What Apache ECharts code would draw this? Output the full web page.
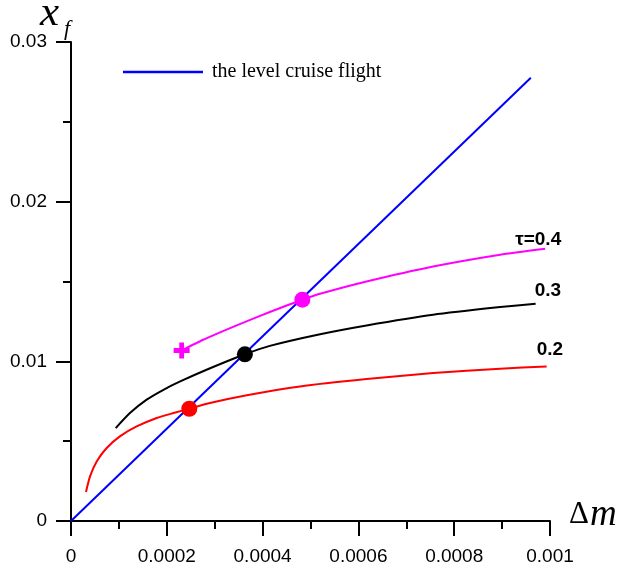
<!DOCTYPE html>
<html>
<head>
<meta charset="utf-8">
<script src="https://cdn.jsdelivr.net/npm/echarts@6/dist/echarts.min.js"></script>
<style>
html,body{margin:0;padding:0;background:#fff;}
#chart{width:622px;height:567px;}
</style>
</head>
<body>
<div id="chart"></div>
<script>
// ---- data ----
var cruiseX = [0, 0.00096];
var cruiseY = [0, 0.02776];

var tau04X = [0.000231, 0.000276, 0.000346, 0.000415, 0.000483, 0.000520, 0.000617, 0.000756, 0.000896, 0.000990];
var tau04Y = [0.01068, 0.01135, 0.01225, 0.01309, 0.01386, 0.01423, 0.01500, 0.01594, 0.01668, 0.01705];

var tau03X = [0.0000933, 0.000123, 0.000158, 0.000193, 0.000228, 0.000283, 0.000363, 0.000415, 0.000520, 0.000617, 0.000756, 0.000896, 0.000970];
var tau03Y = [0.00582, 0.00676, 0.00760, 0.00822, 0.00874, 0.00947, 0.01044, 0.01097, 0.01170, 0.01225, 0.01292, 0.01340, 0.01361];

var tau02X = [0.0000313, 0.0000397, 0.0000536, 0.0000745, 0.000102, 0.000137, 0.000179, 0.000214, 0.000247, 0.000290, 0.000367, 0.000478, 0.000617, 0.000756, 0.000896, 0.000993];
var tau02Y = [0.00182, 0.00279, 0.00373, 0.00457, 0.00530, 0.00592, 0.00645, 0.00676, 0.00703, 0.00739, 0.00788, 0.00843, 0.00889, 0.00927, 0.00954, 0.00968];

var dotX = [0.000247, 0.000363, 0.000483];
var dotY = [0.00703, 0.01044, 0.01386];
var dotColors = ['#ff0000', '#000000', '#ff00ff'];

var startMarkX = [0.000231];
var startMarkY = [0.01068];

var curveLabels = ['\u03c4=0.4', '0.3', '0.2'];
var legendText = 'the level cruise flight';
var xTickLabels = ['0', '0.0002', '0.0004', '0.0006', '0.0008', '0.001'];
var yTickLabels = ['0', '0.01', '0.02', '0.03'];

function pairs(xs, ys) { return xs.map(function (x, i) { return [x, ys[i]]; }); }

var chart = echarts.init(document.getElementById('chart'), null, {renderer: 'canvas'});

var axisCommon = {
  type: 'value',
  axisLine: {show: true, lineStyle: {color: '#000', width: 2}},
  axisTick: {show: true, inside: false, length: 15, lineStyle: {color: '#000', width: 2}},
  minorTick: {show: true, splitNumber: 2, length: 8, lineStyle: {color: '#000', width: 2}},
  splitLine: {show: false},
  minorSplitLine: {show: false}
};

var serif = '"Liberation Serif", "DejaVu Serif", serif';
var sans = '"Liberation Sans", Arial, sans-serif';

chart.setOption({
  animation: false,
  backgroundColor: '#fff',
  grid: {left: 71, top: 42, width: 479, height: 479, containLabel: false},
  xAxis: Object.assign({}, axisCommon, {
    min: 0, max: 0.001, interval: 0.0002,
    axisLabel: {
      margin: 26, color: '#000', fontFamily: sans, fontSize: 19,
      formatter: function (v) { return xTickLabels[Math.round(v / 0.0002)]; }
    }
  }),
  yAxis: Object.assign({}, axisCommon, {
    min: 0, max: 0.03, interval: 0.01,
    axisLabel: {
      margin: 24, color: '#000', fontFamily: sans, fontSize: 19,
      formatter: function (v) { return yTickLabels[Math.round(v / 0.01)]; }
    }
  }),
  legend: {
    data: [{name: legendText, icon: 'rect'}],
    left: 123, top: 62, padding: 0,
    itemWidth: 80, itemHeight: 2.5, itemGap: 10,
    itemStyle: {color: '#0000ff'},
    textStyle: {fontFamily: serif, fontSize: 20, color: '#000', padding: [0, 0, 0, 4]}
  },
  graphic: [
    {type: 'text', left: 40, top: -8, style: {text: 'x', font: 'italic 43px ' + serif, fill: '#000'}},
    {type: 'text', left: 64, top: 18, style: {text: 'f', font: 'italic 22px ' + serif, fill: '#000'}},
    {type: 'text', left: 569, top: 499, style: {text: '\u0394', font: '31px ' + serif, fill: '#000'}},
    {type: 'text', left: 590, top: 497, style: {text: 'm', font: 'italic 37px ' + serif, fill: '#000'}}
  ],
  series: [
    {
      name: legendText, type: 'line', data: pairs(cruiseX, cruiseY),
      showSymbol: false, symbol: 'none',
      lineStyle: {color: '#0000ff', width: 2}, itemStyle: {color: '#0000ff'}
    },
    {
      name: 'tau04', type: 'line', data: pairs(tau04X, tau04Y), smooth: 0.2,
      showSymbol: false, symbol: 'none',
      lineStyle: {color: '#ff00ff', width: 2}, itemStyle: {color: '#ff00ff'},
      endLabel: {show: true, formatter: curveLabels[0], offset: [-38, -9], color: '#000',
        fontFamily: sans, fontWeight: 'bold', fontSize: 19}
    },
    {
      name: 'tau03', type: 'line', data: pairs(tau03X, tau03Y), smooth: 0.2,
      showSymbol: false, symbol: 'none',
      lineStyle: {color: '#000000', width: 2}, itemStyle: {color: '#000'},
      endLabel: {show: true, formatter: curveLabels[1], offset: [-9, -13], color: '#000',
        fontFamily: sans, fontWeight: 'bold', fontSize: 19}
    },
    {
      name: 'tau02', type: 'line', data: pairs(tau02X, tau02Y), smooth: 0.2,
      showSymbol: false, symbol: 'none',
      lineStyle: {color: '#ff0000', width: 2}, itemStyle: {color: '#ff0000'},
      endLabel: {show: true, formatter: curveLabels[2], offset: [-18, -17], color: '#000',
        fontFamily: sans, fontWeight: 'bold', fontSize: 19}
    },
    {
      name: 'dots', type: 'scatter', symbol: 'circle', symbolSize: 16, z: 5,
      data: dotX.map(function (x, i) {
        return {value: [x, dotY[i]], itemStyle: {color: dotColors[i], opacity: 1}};
      })
    },
    {
      name: 'start', type: 'scatter', z: 5,
      symbol: 'path://M3.5,0 H6.5 V3.5 H10 V6.5 H6.5 V10 H3.5 V6.5 H0 V3.5 H3.5 Z',
      symbolSize: 16, itemStyle: {color: '#ff00ff', opacity: 1},
      data: pairs(startMarkX, startMarkY)
    }
  ]
});
</script>
</body>
</html>
